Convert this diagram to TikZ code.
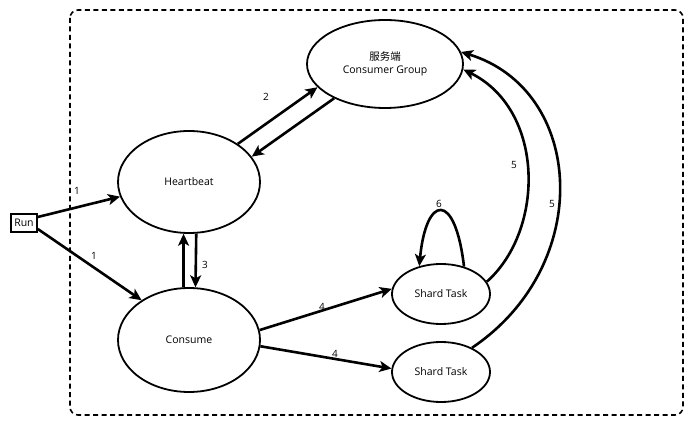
\documentclass[tikz,border=0pt]{standalone}
\usepackage{fontspec}
\setmainfont{Open Sans}
\newfontfamily\cjk{Noto Sans CJK SC}
\usetikzlibrary{arrows.meta,shapes.geometric}
\begin{document}
\begin{tikzpicture}[x=1pt,y=-1pt,
  every node/.style={font=\fontsize{10.5}{12.5}\selectfont},
  ell/.style={draw,ellipse,line width=1.8pt,inner sep=0pt},
  arr/.style={line width=2.6pt,-{Stealth[length=12pt,width=11pt,inset=3pt]}},
  lbl/.style={font=\fontsize{10}{12}\selectfont}]
\useasboundingbox (0,0) rectangle (693,443);
\draw[line width=1.6pt,dash pattern=on 5pt off 3.5pt,rounded corners=8pt] (70,10) rectangle (683,415);
\node[draw,line width=1.6pt,minimum width=26pt,minimum height=18pt,inner sep=1pt] (run) at (24,223) {Run};
\node[ell,minimum width=142pt,minimum height=102pt] (hb) at (189,182) {Heartbeat};
\node[ell,minimum width=142pt,minimum height=104pt] (cs) at (189,340) {Consume};
\node[ell,minimum width=156pt,minimum height=88pt,align=center] (cg) at (385,64) {{\cjk 服务端}\\Consumer Group};
\node[ell,minimum width=98pt,minimum height=60pt] (s1) at (441,294) {Shard Task};
\node[ell,minimum width=98pt,minimum height=60pt] (s2) at (441,372) {Shard Task};
% Run
\draw[arr] (run.east) ++(0,-6) coordinate (r1) -- (hb.192);
\draw[arr] (run.east) ++(0,6) coordinate (r2) -- (cs.140);
\node[lbl] (l1a) at (77,191) {1};
\node[lbl] (l1b) at (94,256) {1};
% Heartbeat <-> CG
\draw[arr] (hb.38) -- (cg.199);
\draw[arr] (cg.214) -- (hb.22);
\node[lbl] (l2) at (266,97) {2};
% Heartbeat <-> Consume
\draw[arr] (cs.96) -- (hb.-96);
\draw[arr] (hb.-82) -- (cs.83);
\node[lbl] (l3) at (205,265) {3};
% Consume -> shard
\draw[arr] (cs.8) -- (s1.174);
\node[lbl] (l4a) at (322,307) {4};
\draw[arr] (cs.-5) -- (s2.176);
\node[lbl] (l4b) at (335,354) {4};
% Shards -> CG
\draw[arr] (s1.15) .. controls (545,230) and (545,110) .. (cg.-4);
\node[lbl] (l5a) at (514,165) {5};
\draw[arr] (s2.38) .. controls (595,265) and (585,90) .. (cg.9);
\node[lbl] (l5b) at (552,204) {5};
% self loop
\draw[arr] (s1.50) .. controls (455,190) and (426,195) .. (s1.128);
\node[lbl] (l6) at (439,204) {6};
\end{tikzpicture}
\end{document}
